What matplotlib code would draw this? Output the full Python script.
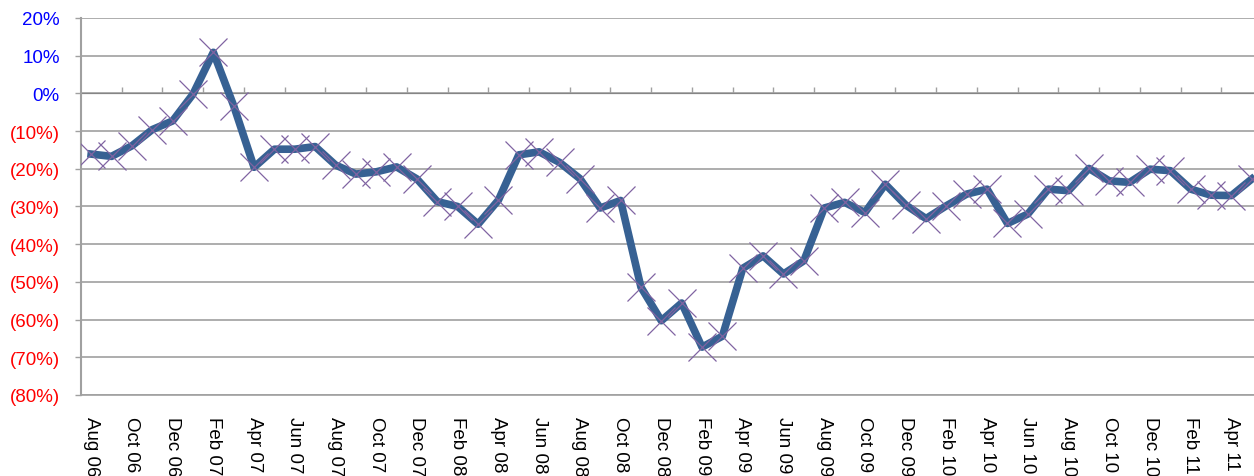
import numpy as np
import pandas as pd
import matplotlib
matplotlib.use("Agg")
import matplotlib.pyplot as plt

plt.rcParams['font.family'] = ['Liberation Sans', 'DejaVu Sans']

# monthly change, Aug 06 .. May 11 (percent)
months = pd.date_range('2006-08-01', periods=58, freq='MS').strftime('%b %y').tolist()
values = [-16.1, -16.7, -13.9, -9.6, -7.3, -0.2, 10.9, -3.3, -19.6, -14.8,
          -14.8, -14.1, -19.0, -21.4, -20.8, -19.5, -22.7, -28.7, -30.0, -34.7,
          -28.3, -16.3, -15.5, -18.3, -22.6, -30.4, -28.4, -51.4, -60.3, -55.6,
          -67.3, -64.4, -46.4, -43.1, -47.9, -44.4, -30.4, -28.9, -31.6, -24.1,
          -29.6, -33.2, -29.8, -26.7, -25.4, -34.5, -32.0, -25.4, -25.8, -19.9,
          -23.2, -23.6, -20.1, -20.5, -25.4, -27.0, -27.1, -22.7]
y_ticks = list(range(-80, 21, 10))

line_col = '#376193'
mark_col = '#8064A2'
grid_col = '#A0A0A0'

W, H = 1254, 477
fig = plt.figure(figsize=(W / 100, H / 100), dpi=100)
ax = fig.add_axes([81 / W, 1 - 396 / H, 1181 / W, 377 / H])

x = np.arange(len(values))
ax.plot(x, values, color=line_col, lw=5.5, marker='x', ms=19.5,
        mec=mark_col, mew=0.9, solid_joinstyle='round', zorder=3)

ax.set_xlim(-0.5, len(values) - 0.5)
ax.set_ylim(-80, 20)

ax.set_yticks(y_ticks)
ax.set_yticklabels(['%d%%' % v if v >= 0 else '(%d%%)' % -v for v in y_ticks])
for lab, v in zip(ax.get_yticklabels(), y_ticks):
    lab.set_color('#0000FF' if v >= 0 else '#FF0000')
ax.tick_params(axis='y', direction='out', length=4.3, width=1, color=grid_col,
               pad=11, labelsize=13.5)

ax.set_xticks(x[::2])
ax.set_xticklabels(months[::2], rotation=-90, va='top', ha='center')
ax.tick_params(axis='x', length=0, pad=15, labelsize=13.5)

ax.grid(axis='y', color=grid_col, lw=1.2)
ax.set_axisbelow(True)
for s in ['top', 'right']:
    ax.spines[s].set_visible(False)
ax.spines['left'].set_color(grid_col)
ax.spines['left'].set_linewidth(1.5)
ax.spines['bottom'].set_color(grid_col)
ax.spines['bottom'].set_linewidth(1.2)

# category axis crosses at 0%, tick marks every two months
sec = ax.secondary_xaxis(0.8)
sec.set_xticks(np.arange(1.5, len(values), 2))
sec.set_xticklabels([])
sec.tick_params(direction='out', length=4.3, width=1, color=grid_col)
sec.spines['bottom'].set_color(grid_col)
sec.spines['bottom'].set_linewidth(1.2)

fig.savefig('out.png', dpi=100)
